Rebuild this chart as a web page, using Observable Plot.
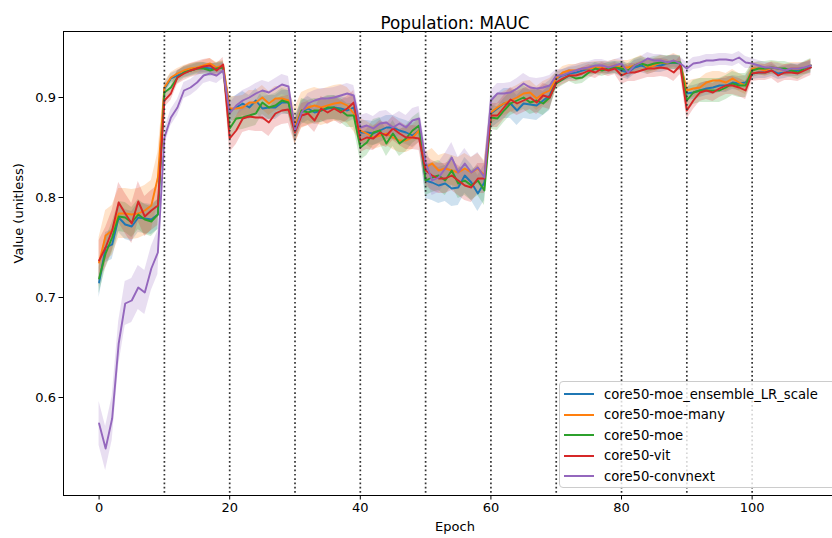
<!DOCTYPE html>
<html><head><meta charset="utf-8">
<script src="https://cdn.jsdelivr.net/npm/d3@7"></script>
<script src="https://cdn.jsdelivr.net/npm/@observablehq/plot@0.6"></script>
<style>
html,body{margin:0;padding:0;background:#fff;overflow:hidden;}
#wrap{position:relative;width:832px;height:538px;overflow:hidden;font-family:"DejaVu Sans",sans-serif;}
#wrap svg{position:absolute;left:0;top:0;max-width:none !important;}
#legend{position:absolute;left:559px;top:381px;width:290px;height:107px;background:rgba(255,255,255,0.8);border:1px solid #cccccc;border-radius:4px;box-sizing:border-box;}
.row{position:absolute;left:4px;height:20px;display:flex;align-items:center;font-size:13.2px;color:#000;white-space:nowrap;}
.sw{width:30px;height:2px;margin-right:10px;}
</style></head><body><div id="wrap"></div>
<script>
const title = "Population: MAUC";
const xLabel = "Epoch";
const yLabel = "Value (unitless)";
const seriesNames = ["core50-moe_ensemble_LR_scale","core50-moe-many","core50-moe","core50-vit","core50-convnext"];
const seriesColors = ["#1f77b4","#ff7f0e","#2ca02c","#d62728","#9467bd"];
const xTicks = [0,20,40,60,80,100];
const yTicks = [0.6,0.7,0.8,0.9];
const taskBoundaries = [10,20,30,40,50,60,70,80,90,100];

const ensembleLR = [
0.715,0.750,0.753,0.780,0.773,0.771,0.780,0.779,0.778,0.783,
0.909,0.919,0.922,0.925,0.927,0.929,0.930,0.929,0.929,0.930,
0.887,0.890,0.894,0.890,0.897,0.889,0.890,0.890,0.895,0.895,
0.869,0.885,0.889,0.885,0.887,0.889,0.890,0.889,0.887,0.890,
0.865,0.865,0.864,0.867,0.870,0.870,0.867,0.865,0.862,0.867,
0.817,0.815,0.812,0.814,0.809,0.810,0.822,0.815,0.804,0.815,
0.884,0.889,0.894,0.894,0.887,0.894,0.893,0.892,0.897,0.902,
0.919,0.922,0.924,0.925,0.927,0.929,0.929,0.930,0.929,0.930,
0.927,0.925,0.930,0.932,0.930,0.932,0.932,0.934,0.935,0.934,
0.904,0.905,0.907,0.909,0.910,0.912,0.912,0.915,0.914,0.915,
0.924,0.925,0.925,0.927,0.924,0.925,0.927,0.927,0.929,0.930];
const moeMany = [
0.735,0.762,0.767,0.784,0.784,0.783,0.784,0.787,0.792,0.820,
0.910,0.920,0.924,0.927,0.929,0.930,0.932,0.934,0.930,0.932,
0.889,0.889,0.890,0.895,0.895,0.900,0.894,0.899,0.899,0.897,
0.872,0.887,0.890,0.892,0.890,0.892,0.894,0.895,0.892,0.884,
0.867,0.864,0.860,0.862,0.864,0.860,0.857,0.857,0.860,0.867,
0.830,0.834,0.827,0.829,0.827,0.825,0.829,0.825,0.829,0.822,
0.885,0.890,0.894,0.897,0.900,0.904,0.905,0.899,0.904,0.907,
0.919,0.925,0.927,0.927,0.929,0.929,0.930,0.930,0.930,0.932,
0.930,0.930,0.932,0.935,0.930,0.932,0.935,0.934,0.937,0.934,
0.907,0.909,0.910,0.915,0.917,0.917,0.915,0.919,0.915,0.912,
0.929,0.929,0.927,0.930,0.929,0.927,0.929,0.929,0.929,0.932];
const moe = [
0.719,0.744,0.760,0.781,0.780,0.775,0.783,0.778,0.776,0.783,
0.905,0.910,0.920,0.925,0.927,0.929,0.929,0.927,0.929,0.930,
0.869,0.879,0.880,0.882,0.884,0.895,0.890,0.892,0.897,0.895,
0.866,0.887,0.885,0.887,0.887,0.890,0.890,0.887,0.882,0.882,
0.850,0.855,0.865,0.867,0.854,0.864,0.854,0.859,0.867,0.872,
0.817,0.820,0.822,0.817,0.827,0.814,0.817,0.812,0.817,0.807,
0.880,0.879,0.887,0.894,0.897,0.900,0.895,0.897,0.894,0.900,
0.914,0.918,0.922,0.919,0.920,0.925,0.929,0.927,0.929,0.930,
0.929,0.927,0.932,0.934,0.932,0.934,0.935,0.935,0.935,0.935,
0.897,0.905,0.907,0.907,0.907,0.907,0.910,0.914,0.912,0.912,
0.927,0.929,0.929,0.930,0.929,0.929,0.927,0.925,0.929,0.932];
const vit = [
0.737,0.750,0.767,0.795,0.784,0.774,0.796,0.781,0.787,0.792,
0.897,0.904,0.920,0.924,0.927,0.929,0.931,0.932,0.927,0.933,
0.859,0.867,0.879,0.881,0.880,0.880,0.875,0.884,0.887,0.888,
0.865,0.882,0.884,0.877,0.889,0.885,0.889,0.885,0.889,0.895,
0.857,0.860,0.859,0.865,0.862,0.869,0.864,0.860,0.860,0.859,
0.827,0.822,0.819,0.819,0.822,0.817,0.812,0.810,0.819,0.819,
0.882,0.882,0.890,0.898,0.894,0.897,0.900,0.895,0.902,0.900,
0.915,0.919,0.922,0.922,0.924,0.927,0.925,0.929,0.927,0.929,
0.922,0.925,0.925,0.927,0.929,0.929,0.930,0.929,0.925,0.932,
0.887,0.897,0.905,0.907,0.905,0.909,0.912,0.912,0.910,0.907,
0.924,0.925,0.925,0.927,0.922,0.925,0.925,0.924,0.927,0.930];
const convnext = [
0.574,0.549,0.579,0.654,0.694,0.697,0.710,0.705,0.729,0.745,
0.860,0.880,0.890,0.907,0.910,0.915,0.922,0.924,0.922,0.927,
0.884,0.892,0.897,0.900,0.904,0.907,0.905,0.909,0.913,0.911,
0.867,0.885,0.894,0.897,0.899,0.899,0.900,0.902,0.904,0.902,
0.870,0.872,0.869,0.874,0.875,0.870,0.874,0.870,0.877,0.879,
0.835,0.817,0.820,0.829,0.840,0.825,0.834,0.825,0.830,0.820,
0.897,0.904,0.904,0.905,0.909,0.914,0.910,0.909,0.910,0.912,
0.922,0.922,0.925,0.927,0.929,0.930,0.932,0.932,0.930,0.932,
0.934,0.925,0.932,0.935,0.939,0.937,0.937,0.935,0.937,0.934,
0.929,0.934,0.935,0.937,0.937,0.938,0.938,0.937,0.940,0.935,
0.934,0.932,0.930,0.930,0.929,0.927,0.929,0.929,0.930,0.932];

// half-width of the shaded band, one value per 10-epoch task
const bandEnsembleLR = [0.015,0.005,0.012,0.012,0.012,0.018,0.015,0.006,0.007,0.007,0.006];
const bandMoeMany    = [0.025,0.005,0.012,0.018,0.012,0.015,0.012,0.006,0.007,0.009,0.006];
const bandMoe        = [0.015,0.006,0.012,0.012,0.013,0.015,0.012,0.006,0.007,0.012,0.007];
const bandVit        = [0.020,0.007,0.014,0.012,0.012,0.015,0.012,0.006,0.009,0.009,0.008];
const bandConvnext   = [0.022,0.008,0.010,0.010,0.012,0.015,0.010,0.006,0.006,0.006,0.005];

const seriesValues = [ensembleLR, moeMany, moe, vit, convnext];
const seriesBands = [bandEnsembleLR, bandMoeMany, bandMoe, bandVit, bandConvnext];

const rows = [];
seriesNames.forEach((name, i) => {
  seriesValues[i].forEach((v, epoch) => {
    const hw = seriesBands[i][Math.floor(epoch / 10)];
    rows.push({series: name, epoch, value: v, lo: v - hw, hi: v + hw});
  });
});

const chart = Plot.plot({
  width: 846,
  height: 538,
  marginLeft: 63,
  marginRight: 0,
  marginTop: 31,
  marginBottom: 43,
  style: {fontFamily: "DejaVu Sans, sans-serif", fontSize: "13px", color: "#000", background: "transparent", overflow: "visible", maxWidth: "none"},
  x: {domain: [-5.45, 114.45]},
  y: {domain: [0.502, 0.966]},
  color: {domain: seriesNames, range: seriesColors},
  marks: [
    Plot.areaY(rows, {x: "epoch", y1: "lo", y2: "hi", fill: "series", z: "series", fillOpacity: 0.22, curve: "linear"}),
    Plot.lineY(rows, {x: "epoch", y: "value", stroke: "series", z: "series", strokeWidth: 1.9, curve: "linear"}),
    Plot.ruleX(taskBoundaries, {stroke: "#333", strokeWidth: 1.7, strokeDasharray: "1.7,2.6"}),
    Plot.frame({stroke: "#000", strokeWidth: 1}),
    Plot.axisX({ticks: xTicks, tickSize: 4.5, tickPadding: 3, label: null, tickFormat: d => String(d), fontSize: 13}),
    Plot.axisY({ticks: yTicks, tickSize: 4.5, tickPadding: 3, label: null, tickFormat: d => d.toFixed(1), fontSize: 13}),
    Plot.text([title], {text: d => d, frameAnchor: "top", dy: -14, fontSize: 16.8}),
    Plot.text([xLabel], {text: d => d, frameAnchor: "bottom", dy: 35, fontSize: 13}),
    Plot.text([yLabel], {text: d => d, frameAnchor: "left", dx: -45, rotate: -90, fontSize: 13})
  ]
});
const wrap = document.getElementById("wrap");
wrap.appendChild(chart);

const legend = document.createElement("div");
legend.id = "legend";
seriesNames.forEach((name, i) => {
  const r = document.createElement("div");
  r.className = "row";
  r.style.top = (2 + i * 20.6) + "px";
  const sw = document.createElement("span");
  sw.className = "sw";
  sw.style.background = seriesColors[i];
  const t = document.createElement("span");
  t.textContent = name;
  r.appendChild(sw); r.appendChild(t);
  legend.appendChild(r);
});
wrap.appendChild(legend);
</script></body></html>
